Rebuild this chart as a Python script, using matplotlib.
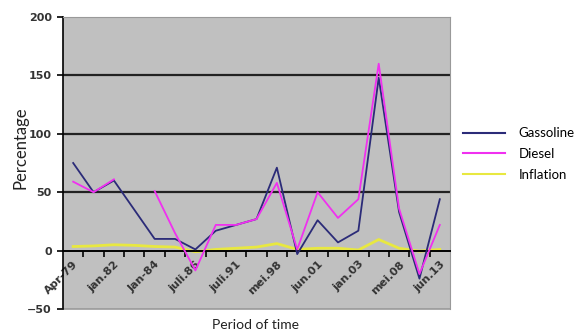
import numpy as np
import matplotlib
matplotlib.use("Agg")
import matplotlib.pyplot as plt
from matplotlib.ticker import MultipleLocator

# kategorier (bare annenhver har etikett i originalen)
labels = ["Apr-79", "", "jan.82", "", "Jan-84", "", "juli.86", "", "juli.91", "",
          "mei.98", "", "jun.01", "", "jan.03", "", "mei.08", "", "jun.13"]
gassoline = [75, 50, 60, 35, 10, 10, 1, 17, 22, 27, 71, -3, 26, 7, 17, 148, 33, -24, 44]
diesel = [59, 50, 61, np.nan, 51, 15, -17, 22, 22, 27, 58, 1, 50, 28, 44, 160, 36, -20, 22]
inflation = [3.5, 4, 5, 4.5, 3.5, 3, -1, 1, 2, 3, 6, 1, 2, 2, 0.5, 9.5, 2, -0.5, 1]

x = np.arange(len(labels))

fig = plt.figure(figsize=(5.79, 3.35), dpi=100)
ax = fig.add_axes([63/579, 1-309/335, 387/579, 292/335])
ax.set_facecolor("#c0c0c0")

for y in [50, 100, 150]:
    ax.axhline(y, color="#222222", lw=1.6, zorder=1)

ax.plot(x, gassoline, color="#2b2b78", lw=1.3, label="Gassoline", zorder=3)
ax.plot(x, diesel, color="#f030f0", lw=1.3, label="Diesel", zorder=3)
ax.plot(x, inflation, color="#e8e840", lw=2.0, label="Inflation", zorder=2)

ax.set_xlim(-0.5, len(labels) - 0.5)
ax.set_ylim(-50, 200)
ax.yaxis.set_major_locator(MultipleLocator(50))

for s in ["top", "right"]:
    ax.spines[s].set_color("#999999")
ax.spines["bottom"].set_position(("data", 0))
ax.spines["bottom"].set_color("black")
ax.spines["bottom"].set_linewidth(1.4)
ax.spines["left"].set_color("black")
ax.spines["left"].set_linewidth(1.2)
ax.axhline(-50, color="#999999", lw=1.2, clip_on=False)

ax.set_xticks(x)
ax.set_xticklabels(labels, rotation=45, ha="right", va="top", fontsize=8,
                   fontweight="bold", color="#333333", rotation_mode="anchor")
ax.tick_params(axis="x", which="major", length=0, pad=6)
ax.set_xticks(x[:-1] + 0.5, minor=True)
ax.tick_params(axis="x", which="minor", length=4, width=1.2, direction="out")
ax.tick_params(axis="y", length=4, width=1.2, labelsize=8, pad=4)
for t in ax.get_yticklabels():
    t.set_fontweight("bold")
    t.set_color("#333333")

fig.text(21/579, 1-148/335, "Percentage", rotation=90, ha="center", va="center",
         fontsize=12, family="Lato", color="#222222")
fig.text(256/579, 1-325/335, "Period of time", ha="center", va="center",
         fontsize=10, family="Lato", color="#222222")

leg = fig.legend(loc="center left", bbox_to_anchor=(451/579, 1-154/335), frameon=False,
                 handlelength=3.2, handletextpad=1.0, labelspacing=0.65,
                 prop={"family": "Lato", "size": 9.5})
for line in leg.get_lines():
    line.set_linewidth(1.5)

fig.savefig("out.png", dpi=100)
